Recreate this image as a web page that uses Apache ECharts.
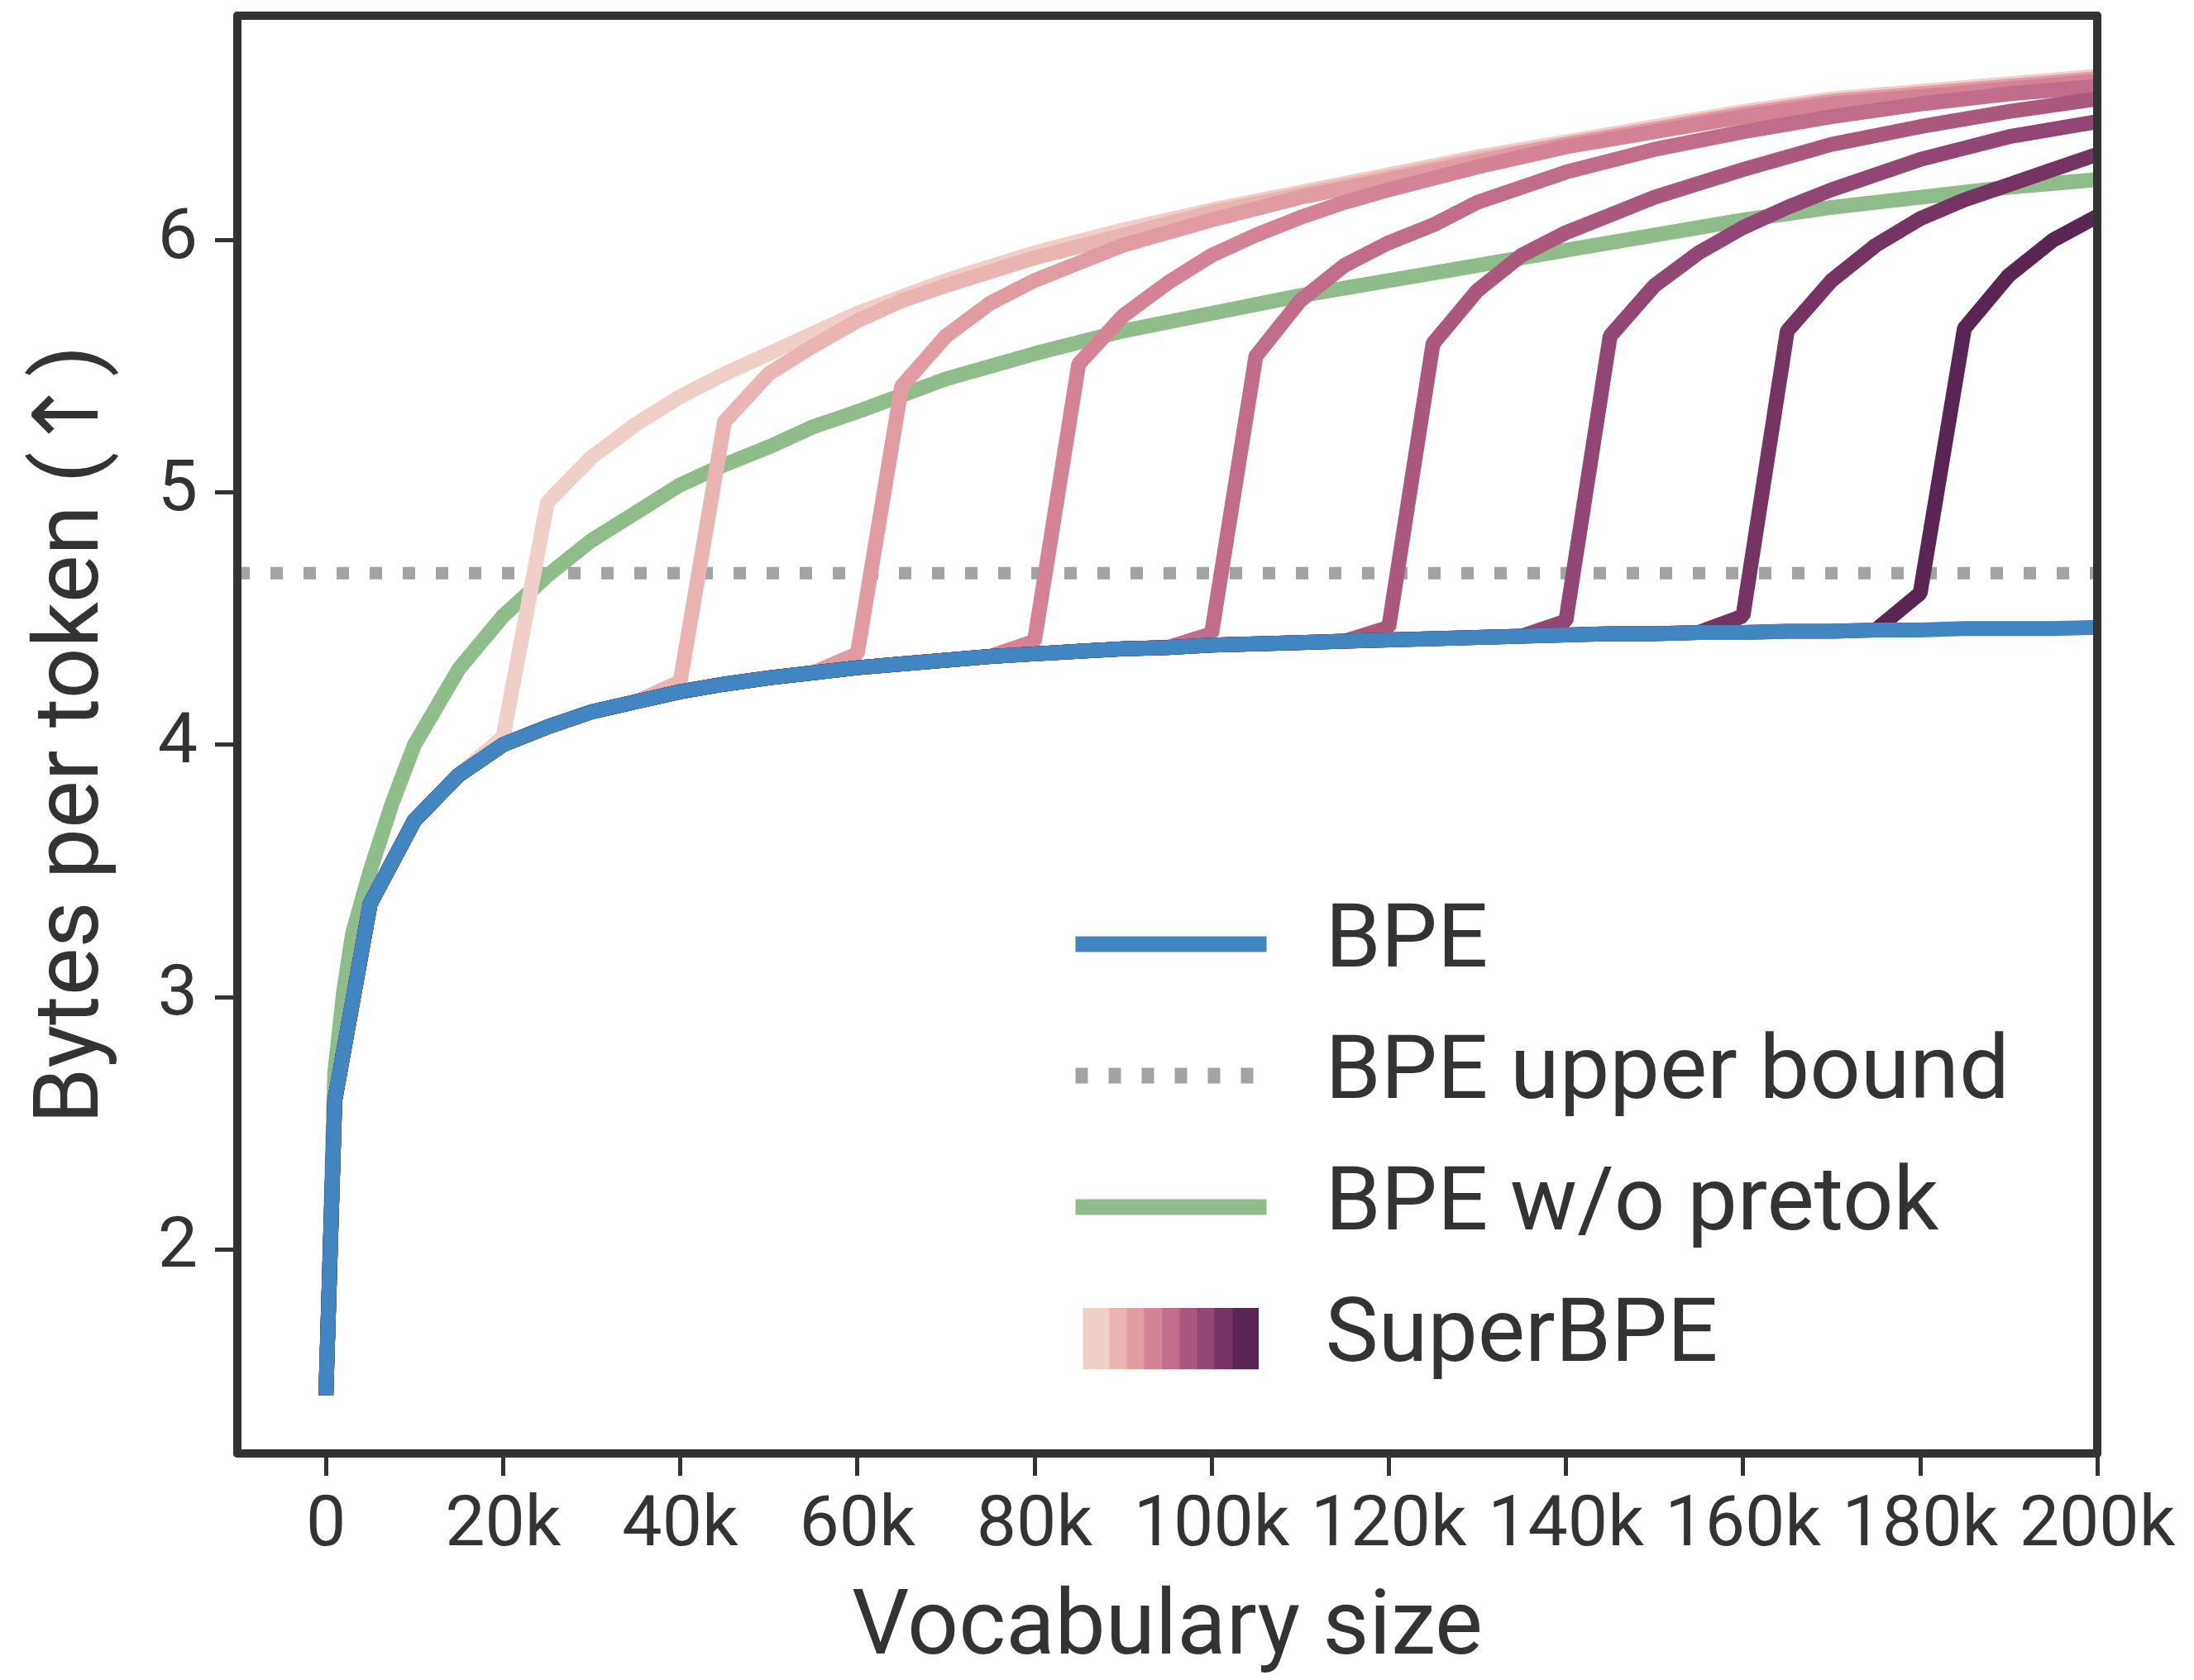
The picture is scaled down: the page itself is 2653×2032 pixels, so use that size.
<!DOCTYPE html>
<html>
<head>
  <meta charset="utf-8">
</head>
<body style="margin: 0">
  <div id="container" style="width: 2653px; height: 2032px"></div>

  <script type="text/javascript" src="https://cdn.jsdelivr.net/npm/echarts@6/dist/echarts.min.js"></script>

  <script type="text/javascript">
    // vocabulary sizes / bytes per token
    var bpeX = [0, 1000, 5000, 10000, 15000, 20000, 25000, 30000, 35000, 40000,
      45000, 50000, 55000, 60000, 65000, 70000, 75000, 80000, 85000, 90000,
      95000, 100000, 105000, 110000, 115000, 120000, 125000, 130000, 135000, 140000,
      145000, 150000, 155000, 160000, 165000, 170000, 175000, 180000, 185000, 190000,
      195000, 200000];
    var bpeY = [1.42, 2.59, 3.37, 3.70, 3.88, 4.00, 4.07, 4.13, 4.17, 4.21,
      4.24, 4.265, 4.285, 4.305, 4.32, 4.335, 4.35, 4.36, 4.37, 4.38,
      4.385, 4.395, 4.40, 4.405, 4.41, 4.415, 4.42, 4.425, 4.43, 4.435,
      4.44, 4.44, 4.445, 4.445, 4.45, 4.45, 4.455, 4.455, 4.46, 4.46,
      4.46, 4.465];

    var pretokX = [0, 1000, 2000, 3000, 5000, 7500, 10000, 15000, 20000, 25000,
      30000, 35000, 40000, 45000, 50000, 55000, 60000, 70000, 80000, 90000,
      100000, 110000, 120000, 130000, 140000, 150000, 160000, 170000, 180000, 190000,
      200000];
    var pretokY = [1.42, 2.70, 3.02, 3.25, 3.50, 3.77, 4.00, 4.30, 4.51, 4.67,
      4.81, 4.92, 5.03, 5.11, 5.18, 5.26, 5.32, 5.45, 5.55, 5.64,
      5.71, 5.78, 5.84, 5.90, 5.96, 6.02, 6.08, 6.13, 6.17, 6.21,
      6.24];

    var upperBound = 4.68;

    // SuperBPE runs: where each leaves the BPE curve, then its own points
    var superStarts = [20000, 40000, 60000, 80000, 100000, 120000, 140000, 160000, 180000];
    var super20k = [[20000, 4.03], [25000, 4.96], [30000, 5.14], [35000, 5.27], [40000, 5.38], [45000, 5.47],
      [50000, 5.55], [60000, 5.71], [70000, 5.84], [80000, 5.95], [90000, 6.04], [100000, 6.12],
      [110000, 6.19], [120000, 6.26], [130000, 6.33], [140000, 6.39], [150000, 6.45], [160000, 6.51],
      [170000, 6.56], [180000, 6.59], [190000, 6.62], [200000, 6.65]];
    var super40k = [[40000, 4.25], [45000, 5.28], [50000, 5.47], [55000, 5.58], [60000, 5.68], [65000, 5.76],
      [70000, 5.82], [80000, 5.93], [90000, 6.02], [100000, 6.11], [110000, 6.18], [120000, 6.25],
      [130000, 6.32], [140000, 6.38], [150000, 6.44], [160000, 6.50], [170000, 6.55], [180000, 6.58],
      [190000, 6.61], [200000, 6.64]];
    var super60k = [[60000, 4.36], [65000, 5.42], [70000, 5.62], [75000, 5.75], [80000, 5.84], [85000, 5.91],
      [90000, 5.98], [100000, 6.08], [110000, 6.17], [120000, 6.24], [130000, 6.31], [140000, 6.38],
      [150000, 6.44], [160000, 6.50], [170000, 6.55], [180000, 6.58], [190000, 6.61], [200000, 6.64]];
    var super80k = [[80000, 4.41], [85000, 5.51], [90000, 5.70], [95000, 5.83], [100000, 5.94], [105000, 6.02],
      [110000, 6.09], [115000, 6.15], [120000, 6.20], [130000, 6.29], [140000, 6.37], [150000, 6.43],
      [160000, 6.49], [170000, 6.54], [180000, 6.57], [190000, 6.60], [200000, 6.63]];
    var super100k = [[100000, 4.44], [105000, 5.54], [110000, 5.76], [115000, 5.90], [120000, 5.99],
      [125000, 6.06], [130000, 6.15], [140000, 6.27], [150000, 6.36], [160000, 6.43], [170000, 6.49],
      [180000, 6.54], [190000, 6.58], [200000, 6.61]];
    var super120k = [[120000, 4.465], [125000, 5.59], [130000, 5.80], [135000, 5.94], [140000, 6.03],
      [145000, 6.10], [150000, 6.17], [160000, 6.28], [170000, 6.38], [180000, 6.45], [190000, 6.51],
      [200000, 6.56]];
    var super140k = [[140000, 4.49], [145000, 5.62], [150000, 5.82], [155000, 5.95], [160000, 6.05],
      [165000, 6.13], [170000, 6.20], [180000, 6.32], [190000, 6.41], [200000, 6.47]];
    var super160k = [[160000, 4.51], [165000, 5.64], [170000, 5.84], [175000, 5.98], [180000, 6.085],
      [185000, 6.16], [190000, 6.22], [195000, 6.28], [200000, 6.34]];
    var super180k = [[180000, 4.60], [185000, 5.65], [190000, 5.86], [195000, 6.00], [200000, 6.095]];
    var superRuns = [super20k, super40k, super60k, super80k, super100k, super120k, super140k, super160k, super180k];

    var xTicks = [0, 20000, 40000, 60000, 80000, 100000, 120000, 140000, 160000, 180000, 200000];
    var yTicks = [2, 3, 4, 5, 6];

    var superColors = ['#f1cfc9', '#eab4b3', '#e09ba3', '#d48396', '#c06c8a',
      '#ab587d', '#914673', '#753462', '#5a2552'];

    var FONT = 'Roboto, "DejaVu Sans", sans-serif';
    var INK = '#333333';
    var LW = 18;

    function pairs(xs, ys) {
      return xs.map(function (x, i) { return [x, ys[i]]; });
    }

    // legend swatch for SuperBPE: 9 stripes
    var stripeW = [32, 21, 21, 22, 21, 21, 21, 22, 31];
    var svg = '<svg xmlns="http://www.w3.org/2000/svg" width="231" height="75">';
    var sx = 9;
    superColors.forEach(function (c, i) {
      svg += '<rect x="' + sx + '" y="0" width="' + (stripeW[i] + 0.5) + '" height="75" fill="' + c + '"/>';
      sx += stripeW[i];
    });
    svg += '</svg>';
    var swatchIcon = 'image://data:image/svg+xml;charset=utf-8,' + encodeURIComponent(svg);

    var series = [];
    series.push({
      name: 'BPE upper bound', type: 'line', symbol: 'none',
      data: [[-10000, upperBound], [200000, upperBound]],
      lineStyle: { color: '#a3a3a3', width: 15, type: [15, 25], cap: 'butt' },
      itemStyle: { color: '#a3a3a3' }
    });
    series.push({
      name: 'BPE w/o pretok', type: 'line', symbol: 'none',
      data: pairs(pretokX, pretokY),
      lineStyle: { color: '#8fbd8a', width: LW },
      itemStyle: { color: '#8fbd8a' }
    });
    superRuns.forEach(function (run, i) {
      var prefix = pairs(bpeX, bpeY).filter(function (p) { return p[0] < superStarts[i]; });
      series.push({
        name: 'SuperBPE', type: 'line', symbol: 'none',
        data: prefix.concat(run),
        lineStyle: { color: superColors[i], width: LW },
        itemStyle: { color: superColors[i] }
      });
    });
    series.push({
      name: 'BPE', type: 'line', symbol: 'none',
      data: pairs(bpeX, bpeY),
      lineStyle: { color: '#4186c0', width: LW },
      itemStyle: { color: '#4186c0' }
    });

    var dom = document.getElementById('container');
    var myChart = echarts.init(dom, null, { renderer: 'canvas' });

    var option = {
      backgroundColor: '#ffffff',
      animation: false,
      textStyle: { fontFamily: FONT, color: INK },
      grid: { left: 287, right: 117, top: 19, bottom: 267 },
      legend: {
        orient: 'vertical',
        left: 1286,
        top: 1082,
        itemWidth: 231,
        itemHeight: 75,
        itemGap: 49,
        lineStyle: { width: 19 },
        itemStyle: { opacity: 0 },
        textStyle: { fontSize: 108, color: INK, fontFamily: FONT, lineHeight: 110, padding: [0, 0, 0, 66] },
        data: [
          { name: 'BPE' },
          { name: 'BPE upper bound' },
          { name: 'BPE w/o pretok' },
          { name: 'SuperBPE', icon: swatchIcon, itemStyle: { opacity: 1 } }
        ]
      },
      xAxis: [{
        type: 'value', min: -10000, max: 200000, z: 10,
        name: 'Vocabulary size', nameLocation: 'middle', nameGap: 160,
        nameTextStyle: { fontSize: 109, color: INK, fontFamily: FONT },
        axisLine: { show: true, onZero: false, lineStyle: { color: INK, width: 10 } },
        axisTick: { show: true, length: 27, lineStyle: { color: INK, width: 5 }, customValues: xTicks },
        axisLabel: {
          fontSize: 86, color: INK, fontFamily: FONT, margin: 46, customValues: xTicks,
          formatter: function (v) { return v === 0 ? '0' : (v / 1000) + 'k'; }
        },
        splitLine: { show: false }
      }, {
        type: 'value', position: 'top', min: -10000, max: 200000, z: 10,
        axisLine: { show: true, onZero: false, lineStyle: { color: INK, width: 10 } },
        axisTick: { show: false }, axisLabel: { show: false }, splitLine: { show: false }
      }],
      yAxis: [{
        type: 'value', min: 1.19, max: 6.89, z: 10,
        name: 'Bytes per token (↑)', nameLocation: 'middle', nameGap: 142, nameRotate: 90,
        nameTextStyle: { fontSize: 109, color: INK, fontFamily: FONT },
        axisLine: { show: true, onZero: false, lineStyle: { color: INK, width: 10 } },
        axisTick: { show: true, length: 27, lineStyle: { color: INK, width: 5 }, customValues: yTicks },
        axisLabel: { fontSize: 86, color: INK, fontFamily: FONT, margin: 48, customValues: yTicks },
        splitLine: { show: false }
      }, {
        type: 'value', position: 'right', min: 1.19, max: 6.89, z: 10,
        axisLine: { show: true, onZero: false, lineStyle: { color: INK, width: 10 } },
        axisTick: { show: false }, axisLabel: { show: false }, splitLine: { show: false }
      }],
      series: series
    };

    myChart.setOption(option);
    window.addEventListener('resize', myChart.resize);
  </script>
</body>
</html>
